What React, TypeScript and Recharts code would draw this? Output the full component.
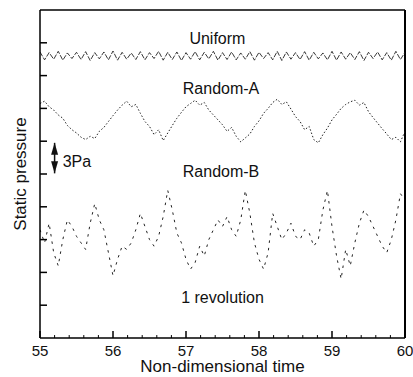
import { LineChart, Line, XAxis, YAxis, ReferenceLine, ReferenceDot } from "recharts";

const FONT = '"Liberation Sans", Arial, Helvetica, sans-serif';

// sampled every 1/16 of a time unit, starting at t = 55
const startTime = 55;
const samplesPerUnit = 16;

const uniform = [
  8.72, 8.48, 8.70, 8.50, 8.74, 8.47, 8.69, 8.52, 8.71, 8.49,
  8.73, 8.46, 8.70, 8.51, 8.72, 8.48, 8.75, 8.47, 8.71, 8.50,
  8.69, 8.49, 8.73, 8.48, 8.70, 8.52, 8.74, 8.47, 8.71, 8.49,
  8.72, 8.46, 8.70, 8.50, 8.73, 8.48, 8.71, 8.51, 8.74, 8.47,
  8.70, 8.49, 8.72, 8.48, 8.69, 8.50, 8.73, 8.47, 8.71, 8.52,
  8.70, 8.48, 8.74, 8.46, 8.72, 8.50, 8.70, 8.49, 8.73, 8.47,
  8.71, 8.51, 8.69, 8.48, 8.74, 8.47, 8.72, 8.50, 8.70, 8.49,
  8.73, 8.46, 8.71, 8.52, 8.72, 8.48, 8.70, 8.47, 8.74, 8.49,
  8.71,
];

const randomA = [
  7.15, 7.22, 7.05, 6.95, 6.80, 6.70, 6.48, 6.35, 6.25, 6.12,
  6.05, 6.15, 6.08, 6.30, 6.42, 6.60, 6.78, 6.95, 7.10, 7.22,
  7.05, 7.12, 6.85, 6.60, 6.45, 6.20, 6.35, 6.02, 6.25, 6.48,
  6.70, 6.88, 7.05, 7.15, 7.25, 7.10, 7.18, 6.95, 6.80, 6.65,
  6.50, 6.30, 6.42, 6.15, 5.98, 6.10, 6.22, 6.45, 6.62, 6.85,
  7.00, 7.18, 7.28, 7.12, 7.20, 6.98, 6.75, 6.60, 6.35, 6.45,
  6.05, 5.95, 6.20, 6.40, 6.65, 6.82, 7.00, 7.12, 7.20, 7.25,
  7.10, 7.18, 6.90, 6.72, 6.55, 6.38, 6.22, 6.05, 6.12, 5.98,
  6.30,
];

const randomB = [
  3.3, 2.9, 3.5, 2.6, 2.2, 3.0, 3.6, 3.4, 3.1, 2.9,
  2.7, 3.5, 4.1, 3.6, 3.3, 2.6, 1.9, 2.4, 2.8, 2.7,
  2.9, 3.3, 3.8, 3.4, 3.0, 2.8, 3.1, 3.7, 4.5, 3.9,
  3.2, 2.9, 2.4, 2.1, 2.3, 2.8, 2.5, 3.0, 3.3, 3.6,
  3.4, 3.7, 3.3, 3.1, 3.6, 4.5, 3.8, 2.9, 2.4, 2.1,
  2.6, 3.8, 3.4, 3.0, 3.2, 3.5, 3.1, 3.0, 3.3, 3.2,
  2.8, 3.0, 3.9, 4.5, 3.4, 2.5, 1.8, 2.7, 2.2, 2.9,
  3.5, 3.9, 3.7, 3.4, 3.1, 2.8, 2.6, 3.0, 3.6, 4.4,
  4.2,
];

const timeTicks = [55, 56, 57, 58, 59, 60];
const minorTimeTicks = [
  55.2, 55.4, 55.6, 55.8, 56.2, 56.4, 56.6, 56.8, 57.2, 57.4,
  57.6, 57.8, 58.2, 58.4, 58.6, 58.8, 59.2, 59.4, 59.6, 59.8,
];
const pressureTicks = [1, 2, 3, 4, 5, 6, 7, 8, 9];

const data = uniform.map((u, i) => ({
  t: startTime + i / samplesPerUnit,
  uniform: u,
  randomA: randomA[i],
  randomB: randomB[i],
}));

const textShape = (text: string, anchor: string = "middle") => (p: any) => (
  <text
    x={p.cx}
    y={p.cy}
    textAnchor={anchor}
    dominantBaseline="central"
    fontSize={16}
    fontFamily={FONT}
    fill="#111"
  >
    {text}
  </text>
);

const arrowHead = (dir: number) => (p: any) => (
  <path
    d={`M${p.cx - 3.5},${p.cy + dir * 12} L${p.cx + 3.5},${p.cy + dir * 12} L${p.cx},${p.cy} Z`}
    fill="#111"
  />
);

const noLabel = () => <g />;

export default function App() {
  return (
    <div style={{ position: "absolute", left: 0, top: 0, background: "#fff" }}>
      <LineChart
        width={413}
        height={377}
        data={data}
        margin={{ top: 10, right: 8, bottom: 0, left: 0 }}
      >
        <XAxis
          dataKey="t"
          type="number"
          domain={[55, 60]}
          ticks={timeTicks}
          interval={0}
          allowDataOverflow
          height={39}
          tickSize={-7}
          tickMargin={14}
          tick={{ fontSize: 15, fill: "#111", fontFamily: FONT }}
          axisLine={{ stroke: "#000", strokeWidth: 1.5 }}
          tickLine={{ stroke: "#000", strokeWidth: 1.5 }}
          label={{
            value: "Non-dimensional time",
            position: "insideBottom",
            offset: 5,
            fontSize: 17,
            fill: "#111",
            fontFamily: FONT,
          }}
        />
        <YAxis
          type="number"
          domain={[0, 10]}
          ticks={pressureTicks}
          interval={0}
          allowDataOverflow
          width={40}
          tick={noLabel}
          tickSize={-7}
          axisLine={{ stroke: "#000", strokeWidth: 1.5 }}
          tickLine={{ stroke: "#000", strokeWidth: 1.5 }}
          label={{
            value: "Static pressure",
            angle: -90,
            position: "center",
            fontSize: 17,
            fill: "#111",
            fontFamily: FONT,
          }}
        />
        <ReferenceLine y={10} stroke="#000" strokeWidth={1.5} />
        <ReferenceLine x={60} stroke="#000" strokeWidth={2} />
        {minorTimeTicks.map((t) => (
          <ReferenceLine
            key={t}
            segment={[{ x: t, y: 0 }, { x: t, y: 0.09 }]}
            stroke="#000"
            strokeWidth={1}
          />
        ))}

        <Line
          dataKey="uniform"
          type="linear"
          stroke="#222"
          strokeWidth={0.9}
          strokeDasharray="5 1.5"
          dot={false}
          isAnimationActive={false}
        />
        <Line
          dataKey="randomA"
          type="linear"
          stroke="#222"
          strokeWidth={1}
          strokeDasharray="1.5 2"
          dot={false}
          isAnimationActive={false}
        />
        <Line
          dataKey="randomB"
          type="linear"
          stroke="#222"
          strokeWidth={1}
          strokeDasharray="2.5 5"
          dot={false}
          isAnimationActive={false}
        />

        <ReferenceDot x={57.43} y={9.13} r={0} shape={textShape("Uniform")} />
        <ReferenceDot x={57.48} y={7.6} r={0} shape={textShape("Random-A")} />
        <ReferenceDot x={57.48} y={5.08} r={0} shape={textShape("Random-B")} />
        <ReferenceDot x={57.5} y={1.23} r={0} shape={textShape("1 revolution")} />
        <ReferenceDot x={55.31} y={5.37} r={0} shape={textShape("3Pa", "start")} />

        <ReferenceLine
          segment={[{ x: 55.2, y: 5.95 }, { x: 55.2, y: 5.02 }]}
          stroke="#111"
          strokeWidth={1.5}
        />
        <ReferenceDot x={55.2} y={5.95} r={0} shape={arrowHead(1)} />
        <ReferenceDot x={55.2} y={5.02} r={0} shape={arrowHead(-1)} />
      </LineChart>
    </div>
  );
}
